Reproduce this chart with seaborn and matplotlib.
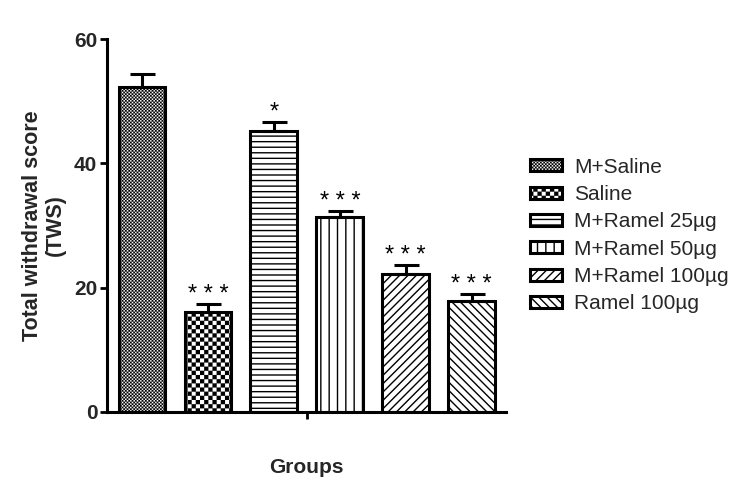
import numpy as np
import pandas as pd
import matplotlib
matplotlib.use("Agg")
import matplotlib.pyplot as plt
import matplotlib.hatch as mhatch
from matplotlib.path import Path
import seaborn as sns

# Data.
groups = ["M+Saline", "Saline", "M+Ramel 25µg", "M+Ramel 50µg",
          "M+Ramel 100µg", "Ramel 100µg"]
means = [52.3, 16.1, 45.2, 31.3, 22.2, 17.9]
sem = [2.0, 1.2, 1.5, 1.0, 1.4, 1.0]
stars = ["", "* * *", "*", "* * *", "* * *", "* * *"]
hatches = [".....", "..", "---", "||", "////", "\\\\\\\\"]


# Square checkerboard hatch, used in place of the '.' dot hatch.
class CheckerHatch(mhatch.HatchPatternBase):
    def __init__(self, hatch, density):
        self.num_cells = hatch.count(".") * density * 2
        self.num_vertices = (self.num_cells * self.num_cells // 2) * 5

    def set_vertices_and_codes(self, vertices, codes):
        n = self.num_cells
        step = 1.0 / n
        k = 0
        for i in range(n):
            for j in range(n):
                if (i + j) % 2:
                    continue
                x0, y0 = i * step, j * step
                vertices[k:k + 5] = [[x0, y0], [x0 + step, y0],
                                     [x0 + step, y0 + step],
                                     [x0, y0 + step], [x0, y0]]
                codes[k:k + 5] = [Path.MOVETO, Path.LINETO, Path.LINETO,
                                  Path.LINETO, Path.CLOSEPOLY]
                k += 5


mhatch._hatch_types = [CheckerHatch if t is mhatch.SmallFilledCircles else t
                       for t in mhatch._hatch_types]


def thin_checker(patches):
    # Keep the checker squares crisp (no outline stroke).
    for p in patches:
        h = p.get_hatch() or ""
        if "." in h and hasattr(p, "set_hatch_linewidth"):
            p.set_hatch_linewidth(0.1)


sns.set_theme(style="ticks")
plt.rcParams["font.family"] = ["Liberation Sans", "DejaVu Sans"]
plt.rcParams["hatch.linewidth"] = 1.0

df = pd.DataFrame({"group": groups, "score": means})

fig = plt.figure(figsize=(7.5, 4.95), dpi=100)
ax = fig.add_axes([0.1427, 0.1677, 0.532, 0.7535])

sns.barplot(data=df, x="group", y="score", order=groups, color="white",
            saturation=1, edgecolor="black", linewidth=2.2, width=0.71,
            errorbar=None, ax=ax)

# Hatch patterns for each bar.
for patch, h in zip(ax.patches, hatches):
    patch.set_hatch(h)
thin_checker(ax.patches)

# Upper error bars only.
xpos = np.arange(len(groups))
ax.errorbar(xpos, means, yerr=[np.zeros(len(sem)), sem], fmt="none",
            ecolor="black", elinewidth=2.2, capsize=9, capthick=2.2,
            zorder=3)

# Significance asterisks.
for x, m, s, st in zip(xpos, means, sem, stars):
    if st:
        ax.text(x, m + s + 0.5, st, ha="center", va="baseline",
                fontsize=17, color="black")

ax.set_ylim(0, 60)
ax.set_xlim(-0.53, 5.52)
ax.set_yticks([0, 20, 40, 60])
ax.set_yticklabels(["0", "20", "40", "60"], fontsize=15, fontweight="bold")
ax.set_xticks([2.5])
ax.set_xticklabels([""])
ax.tick_params(axis="both", length=5, width=2, color="black", pad=2)

for side in ["left", "bottom"]:
    ax.spines[side].set_linewidth(2.2)
    ax.spines[side].set_color("black")
sns.despine(ax=ax)

ax.set_ylabel("Total withdrawal score\n(TWS)", fontsize=15.5,
              fontweight="bold", labelpad=6, linespacing=1.1)
ax.set_xlabel("Groups", fontsize=15, fontweight="bold", labelpad=26)

leg = ax.legend(ax.patches[:len(groups)], groups, loc="center left",
                bbox_to_anchor=(0.707, 0.524), bbox_transform=fig.transFigure,
                frameon=False, fontsize=15, handlelength=1.5,
                handleheight=0.5, handletextpad=0.6, labelspacing=0.4,
                borderpad=0, borderaxespad=0)
thin_checker(leg.legend_handles)

fig.savefig("out.png", dpi=100)
